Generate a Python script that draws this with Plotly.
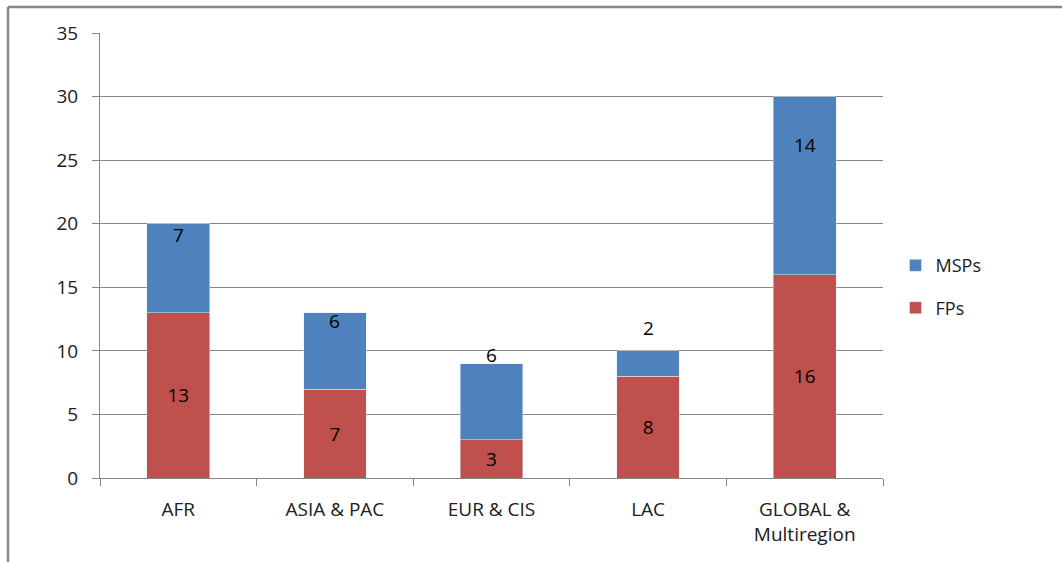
import plotly.graph_objects as go

categories = ["AFR", "ASIA & PAC", "EUR & CIS", "LAC", "GLOBAL &<br>Multiregion"]
fps = [13, 7, 3, 8, 16]
msps = [7, 6, 6, 2, 14]
msp_label_shift = [33, 30, 47, 36, 41]  # style: pixel offsets of MSP labels

FONT = "Open Sans"
fig = go.Figure()
fig.add_trace(go.Bar(name="FPs", x=categories, y=fps, marker_color="#C0504D",
                     legendgroup="fp", legendrank=2,
                     text=fps, textposition="inside", insidetextanchor="middle",
                     textfont=dict(color="black", size=19, family=FONT)))
fig.add_trace(go.Bar(name="MSPs", x=categories, y=msps, marker_color="#4F81BD",
                     legendgroup="msp", legendrank=1))

for c, f, m, s in zip(categories, fps, msps, msp_label_shift):
    fig.add_annotation(x=c, y=f + m / 2, text=str(m), showarrow=False, yshift=s,
                       font=dict(color="black", size=19, family=FONT))

fig.update_layout(
    width=1062, height=562,
    margin=dict(l=100, r=179, t=33, b=84),
    barmode="stack", bargap=0.6,
    plot_bgcolor="white", paper_bgcolor="white",
    font=dict(family=FONT, size=19, color="#202020"),
    legend=dict(traceorder="grouped", x=1.016, y=0.43, xanchor="left", yanchor="middle",
                font=dict(size=18), itemwidth=30, tracegroupgap=16),
    showlegend=True,
    xaxis=dict(showline=True, linecolor="#868686", linewidth=1, ticks="outside",
               tickson="boundaries", ticklen=7, tickcolor="#868686", showgrid=False,
               ticklabelstandoff=14),
    yaxis=dict(range=[0, 35], dtick=5, showline=True, linecolor="#868686", linewidth=1,
               ticks="outside", ticklen=7, tickcolor="#868686", gridcolor="#868686",
               gridwidth=1, zeroline=False, ticklabelstandoff=10),
    shapes=[
        dict(type="line", xref="paper", yref="paper", x0=(8 - 100) / 783, x1=(1062 - 100) / 783,
             y0=1 + 26 / 445, y1=1 + 26 / 445, line=dict(color="#878787", width=2.5)),
        dict(type="line", xref="paper", yref="paper", x0=(8 - 100) / 783, x1=(8 - 100) / 783,
             y0=1 + 26 / 445, y1=-84 / 445, line=dict(color="#878787", width=2.5)),
    ],
)
fig.write_html("out.html")
